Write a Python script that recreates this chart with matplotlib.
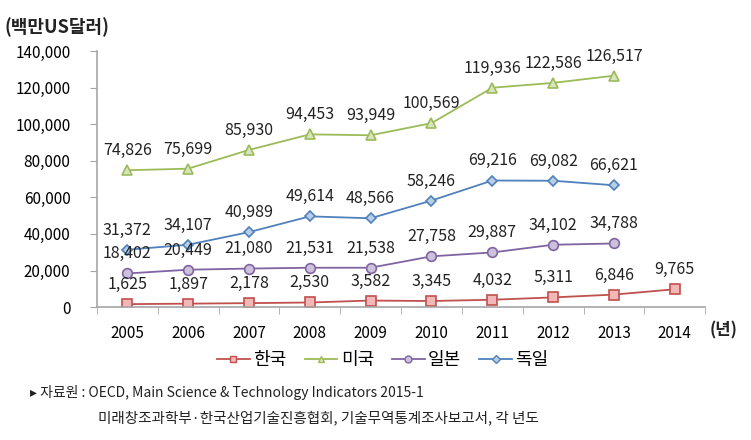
import matplotlib
matplotlib.use("Agg")
import matplotlib.pyplot as plt
from matplotlib.lines import Line2D

plt.rcParams['font.family'] = ['Noto Sans CJK KR', 'DejaVu Sans']

years = ['2005', '2006', '2007', '2008', '2009', '2010', '2011', '2012', '2013', '2014']
korea = [1625, 1897, 2178, 2530, 3582, 3345, 4032, 5311, 6846, 9765]
usa = [74826, 75699, 85930, 94453, 93949, 100569, 119936, 122586, 126517]
japan = [18402, 20449, 21080, 21531, 21538, 27758, 29887, 34102, 34788]
germany = [31372, 34107, 40989, 49614, 48566, 58246, 69216, 69082, 66621]

series = [
    ('한국', korea, 's', '#C0504D', '#F2B8B7'),
    ('미국', usa, '^', '#9BBB59', '#D7E4BD'),
    ('일본', japan, 'o', '#8064A2', '#CCC1DA'),
    ('독일', germany, 'D', '#4F81BD', '#B9CDE5'),
]

fig = plt.figure(figsize=(7.51, 4.40), dpi=100)
ax = fig.add_axes([0.129, 0.302, 0.81, 0.582])

handles = []
for name, vals, mk, lc, fc in series:
    xs = list(range(len(vals)))
    ms = 5 if mk == 'D' else 7
    ax.plot(xs, vals, color=lc, lw=1.3, marker=mk, ms=ms,
            markerfacecolor=fc, markeredgecolor=lc, markeredgewidth=1.2)
    handles.append(Line2D([], [], color=lc, lw=1.3, marker=mk, ms=4 if mk == 'D' else 5,
                          markerfacecolor=fc, markeredgecolor=lc, label=name))
    for x, v in zip(xs, vals):
        ax.annotate(f'{v:,}', (x, v), xytext=(0, 8), textcoords='offset points',
                    ha='center', va='bottom', fontsize=11.5, color='#222222')

ax.set_xlim(-0.5, 9.5)
ax.set_ylim(0, 140000)
ax.set_yticks(range(0, 140001, 20000))
ax.set_yticklabels([f'{v:,}' for v in range(0, 140001, 20000)], fontsize=11)
ax.set_xticks(range(len(years)))
ax.set_xticklabels(years, fontsize=11)
ax.set_xticks([i - 0.5 for i in range(len(years) + 1)], minor=True)
ax.tick_params(axis='x', which='major', length=0, pad=13)
ax.tick_params(axis='x', which='minor', length=5, color='#A6A6A6', direction='out')
ax.tick_params(axis='y', length=5, color='#A6A6A6', pad=14)

for s in ['top', 'right']:
    ax.spines[s].set_visible(False)
for s in ['left', 'bottom']:
    ax.spines[s].set_color('#A6A6A6')
    ax.spines[s].set_linewidth(1.2)

fig.text(0.006, 0.938, '(백만US달러)', fontsize=13, fontweight='bold', color='#222222', va='center')
fig.text(0.945, 0.25, '(년)', fontsize=12, fontweight='bold', color='#222222', ha='left', va='center')

fig.legend(handles=handles, loc='center', bbox_to_anchor=(0.51, 0.182), ncol=4, frameon=False,
           fontsize=13, handlelength=1.8, handletextpad=0.2, columnspacing=1.0)

fig.text(0.04, 0.107, '▸ 자료원 : OECD, Main Science & Technology Indicators 2015-1',
         fontsize=10, color='#222222', va='center')
fig.text(0.13, 0.05, '미래창조과학부·한국산업기술진흥협회, 기술무역통계조사보고서, 각 년도',
         fontsize=10.5, color='#222222', va='center')

fig.savefig('out.png', dpi=100)
